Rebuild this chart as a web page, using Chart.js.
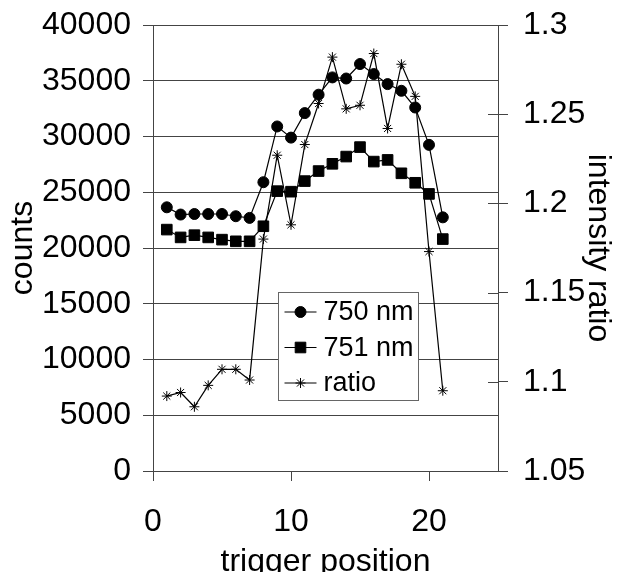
<!DOCTYPE html>
<html>
<head>
<meta charset="utf-8">
<title>trigger position</title>
<script src="https://cdn.jsdelivr.net/npm/chart.js@4.4.1/dist/chart.umd.min.js"></script>
<style>
  html, body { margin: 0; padding: 0; background: #fff; }
  canvas { display: block; }
</style>
</head>
<body>
<canvas id="c" width="618" height="572"></canvas>
<script>
// values
const positions = [1, 2, 3, 4, 5, 6, 7, 8, 9, 10, 11, 12, 13, 14, 15, 16, 17, 18, 19, 20, 21];
const counts750 = [23650, 23000, 23050, 23050, 23050, 22850, 22700, 25900, 30900, 29900, 32100, 33750, 35300, 35200, 36500, 35600, 34700, 34100, 32600, 29250, 22750];
const counts751 = [21650, 20950, 21150, 20950, 20750, 20600, 20600, 21950, 25100, 25050, 26000, 26900, 27550, 28200, 29050, 27750, 27900, 26700, 25850, 24850, 20800];
const ratio = [1.092, 1.094, 1.086, 1.098, 1.107, 1.107, 1.101, 1.180, 1.227, 1.188, 1.233, 1.256, 1.282, 1.253, 1.255, 1.284, 1.242, 1.278, 1.260, 1.173, 1.095];
const seriesNames = ['750 nm', '751 nm', 'ratio'];

const FONT = '"Liberation Sans", Arial, Helvetica, sans-serif';
const GRID = '#444';

const pts = ys => positions.map((x, i) => ({ x, y: ys[i] }));

// y axes: no extra space above/below for the end labels
const noPad = s => { s.paddingTop = 0; s.paddingBottom = 0; };

// ratio axis ticks cross the axis line (inner half)
const innerTicks = {
  id: 'innerTicks',
  afterDraw(chart){
    const sc = chart.scales.y2;
    const ctx = chart.ctx;
    ctx.save();
    ctx.strokeStyle = GRID;
    ctx.lineWidth = 1;
    sc.ticks.forEach(t => {
      const y = Math.round(sc.getPixelForValue(t.value)) + 0.5;
      ctx.beginPath();
      ctx.moveTo(sc.left - 10, y);
      ctx.lineTo(sc.left, y);
      ctx.stroke();
    });
    ctx.restore();
  }
};

// legend drawn inside the plot, like the original
const insideLegend = {
  id: 'insideLegend',
  afterDraw(chart){
    const ctx = chart.ctx;
    const bx = 278.5, by = 292.5, bw = 140, bh = 108;
    ctx.save();
    ctx.fillStyle = '#fff';
    ctx.fillRect(bx, by, bw, bh);
    ctx.strokeStyle = '#666';
    ctx.lineWidth = 1;
    ctx.strokeRect(bx, by, bw, bh);
    chart.data.datasets.forEach((ds, i) => {
      const y = by + 19.5 + i * 35.5;
      ctx.strokeStyle = '#000';
      ctx.lineWidth = 1;
      ctx.beginPath();
      ctx.moveTo(bx + 6, y);
      ctx.lineTo(bx + 38, y);
      ctx.stroke();
      ctx.fillStyle = '#000';
      Chart.helpers.drawPoint(ctx, {
        pointStyle: ds.pointStyle, radius: ds.pointRadius,
        borderWidth: 1, rotation: 0
      }, bx + 22, y);
      ctx.fillStyle = '#000';
      ctx.font = '27px ' + FONT;
      ctx.textBaseline = 'middle';
      ctx.textAlign = 'left';
      ctx.fillText(ds.label, bx + 45, y + 1);
    });
    ctx.restore();
  }
};

new Chart(document.getElementById('c'), {
  type: 'line',
  data: {
    datasets: [
      { label: seriesNames[0], data: pts(counts750), yAxisID: 'y',
        pointStyle: 'circle', pointRadius: 5.5 },
      { label: seriesNames[1], data: pts(counts751), yAxisID: 'y',
        pointStyle: 'rect', pointRadius: 7.5 },
      { label: seriesNames[2], data: pts(ratio), yAxisID: 'y2',
        pointStyle: 'star', pointRadius: 5 }
    ].map(d => Object.assign(d, {
      borderColor: '#000', backgroundColor: '#000',
      pointBorderColor: '#000', pointBackgroundColor: '#000',
      borderWidth: 1.2, pointBorderWidth: 1, tension: 0
    }))
  },
  options: {
    responsive: false,
    devicePixelRatio: 1,
    animation: false,
    layout: { padding: { top: 25, left: 0, right: 0, bottom: 0 } },
    plugins: { legend: { display: false }, tooltip: { enabled: false } },
    scales: {
      x: {
        type: 'linear', min: 0, max: 25,
        afterFit: s => { s.height = 101; },
        ticks: { stepSize: 10, includeBounds: false, color: '#000', padding: 22,
                 font: { family: FONT, size: 32 }, maxRotation: 0 },
        grid: { drawOnChartArea: false, color: GRID, tickLength: 10 },
        border: { color: GRID },
        title: { display: true, text: 'trigger position', color: '#000',
                 font: { family: FONT, size: 32, lineHeight: 0.6 }, padding: 0 }
      },
      y: {
        position: 'left', min: 0, max: 40000,
        afterFit: s => { s.width = 153; noPad(s); },
        ticks: { stepSize: 5000, color: '#000', padding: 12, autoSkip: false,
                 font: { family: FONT, size: 32 }, callback: v => String(v) },
        grid: { color: GRID, tickLength: 10 },
        border: { color: GRID },
        title: { display: true, text: 'counts', color: '#000',
                 font: { family: FONT, size: 32 }, padding: 4 }
      },
      y2: {
        position: 'right', min: 1.05, max: 1.3,
        afterFit: s => { s.width = 120; noPad(s); },
        ticks: { stepSize: 0.05, color: '#000', padding: 15, autoSkip: false,
                 font: { family: FONT, size: 32 }, callback: v => String(+v.toFixed(2)) },
        grid: { drawOnChartArea: false, color: GRID, tickLength: 10 },
        border: { color: GRID },
        title: { display: true, text: 'intensity ratio', color: '#000',
                 font: { family: FONT, size: 32, lineHeight: 1.1 }, padding: 3 }
      }
    }
  },
  plugins: [innerTicks, insideLegend]
});
</script>
</body>
</html>
